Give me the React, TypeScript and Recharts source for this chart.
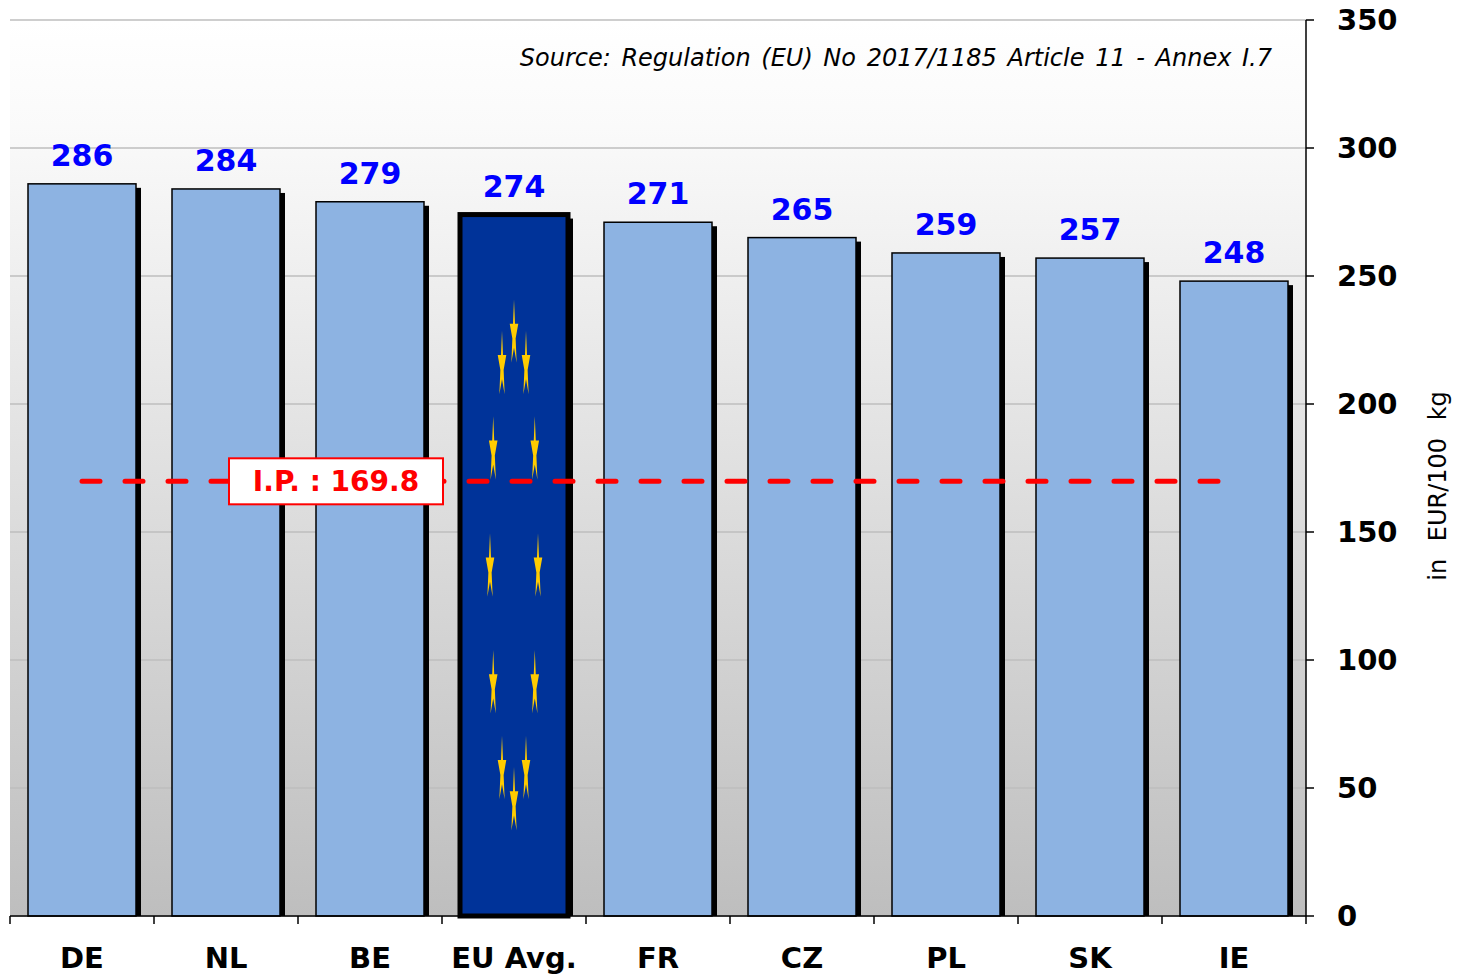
import React from "react";
import {
    BarChart,
    Bar,
    XAxis,
    YAxis,
    CartesianGrid,
    ReferenceLine,
    LabelList,
} from "recharts";

const countries = ["DE", "NL", "BE", "EU Avg.", "FR", "CZ", "PL", "SK", "IE"];
const prices = [286, 284, 279, 274, 271, 265, 259, 257, 248];
const yTicks = [0, 50, 100, 150, 200, 250, 300, 350];
const interventionPrice = 169.8;
const highlight = "EU Avg.";
const sourceNote = "Source: Regulation (EU) No 2017/1185 Article 11 - Annex I.7";
const unitLabel = "in EUR/100 kg";

const data = countries.map((name, i) => ({ name, value: prices[i] }));

const W = 1464;
const H = 976;
const MARGIN = { top: 20, right: 48, bottom: 0, left: 10 };
const Y_AXIS_W = 110;
const X_AXIS_H = 60;
const PLOT_W = W - MARGIN.left - MARGIN.right - Y_AXIS_W;
const AXIS_Y = H - MARGIN.bottom - X_AXIS_H;
const BAND = PLOT_W / countries.length;
const FONT = "'DejaVu Sans', Verdana, sans-serif";

// 5-point star, stretched like the flag picture inside the bar
function starPoints(cx: number, cy: number, rx: number, ry: number) {
    const pts: string[] = [];
    for (let k = 0; k < 10; k++) {
        const a = -Math.PI / 2 + (k * Math.PI) / 5;
        const r = k % 2 === 0 ? 1 : 0.382;
        pts.push(`${cx + Math.cos(a) * r * rx},${cy + Math.sin(a) * r * ry}`);
    }
    return pts.join(" ");
}

function BarShape(props: any) {
    const { x, y, width, height, payload } = props;
    const shadow = (
        <rect x={x + 5} y={y + 4} width={width} height={height - 4} fill="#000" />
    );
    if (payload.name !== highlight) {
        return (
            <g>
                {shadow}
                <rect x={x} y={y} width={width} height={height} fill="#8DB3E2" stroke="#000" strokeWidth={1.5} />
            </g>
        );
    }
    const cx = x + width / 2;
    const cy = y + height / 2 + 3;
    const uw = width / 3;
    const uh = height / 2;
    const stars = Array.from({ length: 12 }, (_, k) => {
        const a = -Math.PI / 2 + (k * Math.PI) / 6;
        return (
            <polygon
                key={k}
                points={starPoints(cx + Math.cos(a) * (2 / 3) * uw, cy + Math.sin(a) * (2 / 3) * uh, uw / 8, uh / 10)}
                fill="#FFCC00"
            />
        );
    });
    return (
        <g>
            {shadow}
            <rect x={x} y={y} width={width} height={height} fill="#003399" stroke="#000" strokeWidth={5} />
            {stars}
        </g>
    );
}

function XTick(props: any) {
    const { x, payload, index } = props;
    const left = x - BAND / 2;
    return (
        <g>
            <line x1={left} y1={AXIS_Y} x2={left} y2={AXIS_Y + 8} stroke="#000" strokeWidth={1.5} />
            {index === countries.length - 1 && (
                <line x1={x + BAND / 2} y1={AXIS_Y} x2={x + BAND / 2} y2={AXIS_Y + 8} stroke="#000" strokeWidth={1.5} />
            )}
            <text x={x} y={AXIS_Y + 52} textAnchor="middle" fontFamily={FONT} fontWeight="bold" fontSize={29} fill="#000">
                {payload.value}
            </text>
        </g>
    );
}

function YTick(props: any) {
    const { x, y, payload } = props;
    return (
        <text x={x} y={y} dy="0.36em" textAnchor="start" fontFamily={FONT} fontWeight="bold" fontSize={29} fill="#000">
            {payload.value}
        </text>
    );
}

function IPLabel(props: any) {
    const { viewBox } = props;
    const cx = viewBox.x + 254;
    const cy = viewBox.y;
    return (
        <g>
            <rect x={cx - 107} y={cy - 23} width={214} height={46} fill="#fff" stroke="#FF0000" strokeWidth={2} />
            <text x={cx} y={cy + 10} textAnchor="middle" fontFamily={FONT} fontWeight="bold" fontSize={28} fill="#FF0000">
                {`I.P. : ${interventionPrice}`}
            </text>
        </g>
    );
}

export default function App() {
    return (
        <div style={{ position: "relative", width: W, height: H, margin: "-8px 0 0 -8px" }}>
            <svg width={0} height={0} style={{ position: "absolute" }}>
                <defs>
                    <linearGradient id="bgGrad" x1="0" y1="0" x2="0" y2="1">
                        <stop offset="0%" stopColor="#FFFFFF" />
                        <stop offset="12%" stopColor="#FAFAFA" />
                        <stop offset="100%" stopColor="#BEBEBE" />
                    </linearGradient>
                </defs>
            </svg>
            <BarChart width={W} height={H} data={data} margin={MARGIN} barCategoryGap="12.5%">
                <CartesianGrid horizontal vertical={false} stroke="#BEBEBE" strokeWidth={1.5} fill="url(#bgGrad)" />
                <XAxis
                    dataKey="name"
                    height={X_AXIS_H}
                    tickLine={false}
                    axisLine={{ stroke: "#000", strokeWidth: 1.5 }}
                    tick={<XTick />}
                    interval={0}
                />
                <YAxis
                    orientation="right"
                    width={Y_AXIS_W}
                    domain={[0, 350]}
                    ticks={yTicks}
                    interval={0}
                    tickSize={8}
                    tickMargin={23}
                    axisLine={{ stroke: "#000", strokeWidth: 1.5 }}
                    tickLine={{ stroke: "#000", strokeWidth: 1.5 }}
                    tick={<YTick />}
                    label={(p: any) => (
                        <text
                            transform={`translate(${p.viewBox.x + 132},486) rotate(-90)`}
                            textAnchor="middle"
                            dominantBaseline="central"
                            fontFamily={FONT}
                            fontSize={24}
                            wordSpacing={10}
                            fill="#000"
                        >
                            {unitLabel}
                        </text>
                    )}
                />
                <Bar dataKey="value" shape={<BarShape />} isAnimationActive={false}>
                    <LabelList
                        dataKey="value"
                        content={(p: any) => (
                            <text
                                x={p.x + p.width / 2}
                                y={p.y - 18}
                                textAnchor="middle"
                                fontFamily={FONT}
                                fontWeight="bold"
                                fontSize={30}
                                fill="#0000FF"
                            >
                                {p.value}
                            </text>
                        )}
                    />
                </Bar>
                <ReferenceLine
                    segment={[
                        { x: countries[0], y: interventionPrice },
                        { x: countries[countries.length - 1], y: interventionPrice },
                    ]}
                    stroke="#FF0000"
                    strokeWidth={5}
                    strokeDasharray="18 25"
                    strokeLinecap="round"
                    label={<IPLabel />}
                />
            </BarChart>
            <div
                style={{
                    position: "absolute",
                    left: 0,
                    top: 46,
                    width: 1272,
                    textAlign: "right",
                    fontFamily: FONT,
                    fontStyle: "italic",
                    fontSize: 24,
                    lineHeight: "24px",
                    wordSpacing: 3,
                    color: "#000",
                    whiteSpace: "nowrap",
                }}
            >
                {sourceNote}
            </div>
        </div>
    );
}
